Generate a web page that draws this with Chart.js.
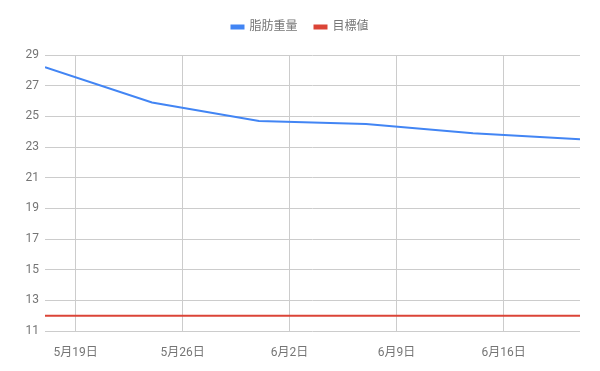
<!DOCTYPE html>
<html>
<head>
<meta charset="utf-8">
<script src="https://cdn.jsdelivr.net/npm/chart.js@4"></script>
<style>
  html, body { margin: 0; padding: 0; background: #fff; }
  #wrap { width: 600px; height: 371px; }
</style>
</head>
<body>
<div id="wrap"><canvas id="fatChart" width="600" height="371"></canvas></div>
<script>
// days counted from 5月17日
const days = [0, 7, 14, 21, 28, 35];
const fatWeight = [28.2, 25.9, 24.7, 24.5, 23.9, 23.5];
const target = [12, 12, 12, 12, 12, 12];
const tickDays = [2, 9, 16, 23, 30];
const tickLabels = ['5月19日', '5月26日', '6月2日', '6月9日', '6月16日'];
const yTicks = [11, 13, 15, 17, 19, 21, 23, 25, 27, 29];

const fontFamily = "Roboto, 'Noto Sans CJK JP', sans-serif";
const textColor = '#757575';
const gridColor = '#cccccc';

const toPoints = (vals) => vals.map((v, i) => ({ x: days[i], y: v }));

// extra gap between the legend and the plot
const legendGap = {
  id: 'legendGap',
  beforeInit(chart) {
    const fit = chart.legend.fit;
    chart.legend.fit = function () {
      fit.call(this);
      this.height += 12;
    };
  },
};

const ctx = document.getElementById('fatChart').getContext('2d');
new Chart(ctx, {
  type: 'line',
  data: {
    datasets: [
      {
        label: '脂肪重量',
        data: toPoints(fatWeight),
        borderColor: '#4285F4',
        backgroundColor: '#4285F4',
        borderWidth: 2,
        pointRadius: 0,
        tension: 0,
      },
      {
        label: '目標値',
        data: toPoints(target),
        borderColor: '#DB4437',
        backgroundColor: '#DB4437',
        borderWidth: 2,
        pointRadius: 0,
        tension: 0,
      },
    ],
  },
  plugins: [legendGap],
  options: {
    responsive: false,
    animation: false,
    layout: { padding: { top: 4, right: 20, bottom: 0, left: 20 } },
    plugins: {
      legend: {
        position: 'top',
        labels: {
          boxWidth: 12,
          boxHeight: 3,
          padding: 17,
          color: textColor,
          font: { family: fontFamily, size: 12 },
        },
      },
      tooltip: { enabled: false },
    },
    scales: {
      x: {
        type: 'linear',
        min: 0,
        max: 35,
        afterBuildTicks: (scale) => {
          scale.ticks = tickDays.map((d) => ({ value: d }));
        },
        afterFit: (scale) => { scale.height = 40; },
        border: { display: false },
        grid: { color: gridColor, drawTicks: false },
        ticks: {
          padding: 15,
          maxRotation: 0,
          autoSkip: false,
          color: textColor,
          font: { family: fontFamily, size: 12 },
          callback: (value) => tickLabels[tickDays.indexOf(value)],
        },
      },
      y: {
        min: 11,
        max: 29,
        afterBuildTicks: (scale) => {
          scale.ticks = yTicks.map((v) => ({ value: v }));
        },
        afterFit: (scale) => { scale.width = 25; },
        border: { display: false },
        grid: { color: gridColor, drawTicks: false },
        ticks: {
          padding: 6,
          color: textColor,
          font: { family: fontFamily, size: 12 },
        },
      },
    },
  },
});
</script>
</body>
</html>
